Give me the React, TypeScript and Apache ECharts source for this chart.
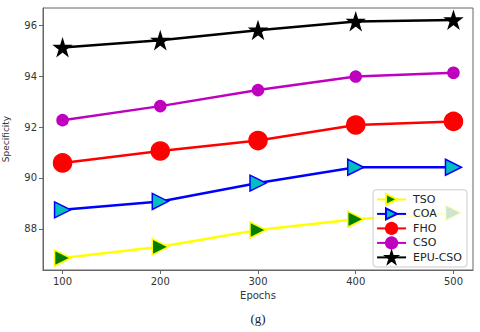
import React, { useEffect, useRef } from "react";
import * as echarts from "echarts";

const epochs = [100, 200, 300, 400, 500];
const tso = [86.86, 87.3, 87.96, 88.38, 88.63];
const coa = [88.75, 89.08, 89.8, 90.42, 90.42];
const fho = [90.59, 91.06, 91.47, 92.08, 92.22];
const cso = [92.27, 92.82, 93.45, 93.98, 94.13];
const epu = [95.12, 95.4, 95.8, 96.14, 96.2];
const xTicks = [100, 200, 300, 400, 500];
const yTicks = [88, 90, 92, 94, 96];

const STAR = "path://M50,0 L61.2,34.5 L97.6,34.5 L68.2,55.9 L79.4,90.5 L50,69.1 L20.6,90.5 L31.8,55.9 L2.4,34.5 L38.8,34.5 Z";

export default function App() {
  const ref = useRef<HTMLDivElement>(null);
  useEffect(() => {
    document.body.style.margin = "0";
    if (!ref.current) return;
    const chart = echarts.init(ref.current, null, { renderer: "svg" });
    const font = "DejaVu Sans";
    const mk = (name: string, data: number[], line: string, fill: string, border: string, symbol: string, size: number, rotate = 0) => ({
      name,
      type: "line",
      data: epochs.map((e, i) => [e, data[i]]),
      lineStyle: { color: line, width: 2.5 },
      itemStyle: { color: fill, borderColor: border, borderWidth: 1.5 },
      symbol,
      symbolSize: size,
      symbolRotate: rotate,
      showAllSymbol: true,
    });
    chart.setOption({
      animation: false,
      backgroundColor: "#fff",
      textStyle: { fontFamily: font },
      grid: { left: 43, right: 7, top: 8, bottom: 62, outerBoundsMode: "none" },
      xAxis: {
        type: "value",
        min: 80,
        max: 520,
        interval: 100,
        name: "Epochs",
        nameLocation: "middle",
        nameGap: 20,
        nameTextStyle: { fontSize: 10, color: "#333", fontFamily: font },
        axisLine: { show: true, lineStyle: { color: "#666", width: 1 } },
        axisTick: { show: true, length: 4, lineStyle: { color: "#666" }, customValues: xTicks },
        axisLabel: { fontSize: 10, color: "#333", margin: 6, customValues: xTicks },
        splitLine: { show: false },
      },
      yAxis: {
        type: "value",
        min: 86.39,
        max: 96.67,
        name: "Specificity",
        nameLocation: "middle",
        nameGap: 33,
        nameTextStyle: { fontSize: 9, color: "#333", fontFamily: font },
        axisLine: { show: true, lineStyle: { color: "#666", width: 1 } },
        axisTick: { show: true, length: 4, lineStyle: { color: "#666" }, customValues: yTicks },
        axisLabel: { fontSize: 10, color: "#333", margin: 6, customValues: yTicks },
        splitLine: { show: false },
      },
      graphic: [
        { type: "rect", shape: { x: 43, y: 8, width: 430, height: 262 }, style: { fill: "none", stroke: "#666", lineWidth: 1 }, silent: true },
        { type: "text", x: 258, y: 318, style: { text: "(g)", font: "13px 'Liberation Serif', serif", fill: "#222", textAlign: "center", textVerticalAlign: "middle" } },
      ],
      legend: {
        orient: "vertical",
        right: 13,
        bottom: 65,
        itemWidth: 29,
        itemHeight: 14,
        itemGap: 1.3,
        padding: [3, 5, 3, 3],
        backgroundColor: "rgba(255,255,255,0.8)",
        borderColor: "#ccc",
        borderWidth: 1,
        borderRadius: 3,
        textStyle: { fontSize: 11, color: "#222", fontFamily: font, padding: [0, 0, 0, 2] },
        data: ["TSO", "COA", "FHO", "CSO", "EPU-CSO"],
      },
      series: [
        mk("TSO", tso, "#ffff00", "#007f00", "#ffff00", "triangle", 16, -90),
        mk("COA", coa, "#0000ff", "#00bfbf", "#0000ff", "triangle", 16, -90),
        mk("FHO", fho, "#ff0000", "#ff0000", "#ff0000", "circle", 18),
        mk("CSO", cso, "#bf00bf", "#bf00bf", "#bf00bf", "circle", 11),
        mk("EPU-CSO", epu, "#000000", "#000000", "#000000", STAR, 16),
      ],
    });
    return () => chart.dispose();
  }, []);
  return <div ref={ref} style={{ width: 480, height: 332 }} />;
}
